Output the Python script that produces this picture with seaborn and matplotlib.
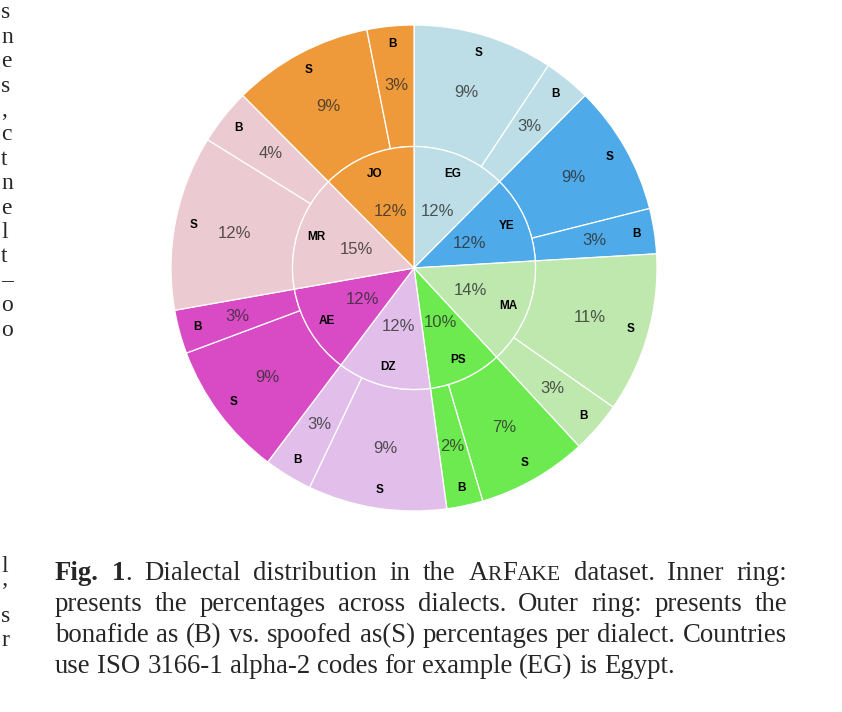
import matplotlib
matplotlib.use('Agg')
import matplotlib.pyplot as plt
import seaborn as sns
import numpy as np

# dialect shares (%), clockwise from 12 o'clock
dialects = ['EG', 'YE', 'MA', 'PS', 'DZ', 'AE', 'MR', 'JO']
spoofed = [9.3, 8.6, 10.6, 7.3, 9.2, 9.0, 11.6, 9.3]
bonafide = [3.1, 3.0, 3.4, 2.4, 3.2, 2.9, 3.7, 3.1]
dialect_colors = ['#bddee6', '#4eaae8', '#bee8ae', '#6dea50',
                  '#e2bfea', '#d84bc5', '#ebcad2', '#ef9a3a']

caption_lines = [
    [[('Fig.', 'bold', 1)], [('1', 'bold', 1), ('.', 'normal', 1)], [('Dialectal', 'normal', 1)],
     [('distribution', 'normal', 1)], [('in', 'normal', 1)], [('the', 'normal', 1)],
     [('A', 'normal', 1), ('R', 'normal', 0.8), ('F', 'normal', 1), ('AKE', 'normal', 0.8)],
     [('dataset.', 'normal', 1)], [('Inner', 'normal', 1)], [('ring:', 'normal', 1)]],
    'presents the percentages across dialects. Outer ring: presents the',
    'bonafide as (B) vs. spoofed as(S) percentages per dialect. Countries',
    'use ISO 3166-1 alpha-2 codes for example (EG) is Egypt.',
]
# letters of the neighbouring column seen at the left edge
edge_top = ['s', 'n', 'e', 's', ',', 'c', 't', 'n', 'e', 'l', 't', '–', 'o', 'o']
edge_bottom = ['l', '’', 's', 'r']

sns.set_style('white')
plt.rcParams['font.family'] = ['Liberation Sans', 'DejaVu Sans']

W, H = 842, 712
fig = plt.figure(figsize=(W / 100, H / 100), dpi=100)
cx, cy, R = 414, 268, 243
ax = fig.add_axes([(cx - R) / W, 1 - (cy + R) / H, 2 * R / W, 2 * R / H])

totals = [s + b for s, b in zip(spoofed, bonafide)]
outer_vals, outer_cols, outer_codes = [], [], []
for s, b, c in zip(spoofed, bonafide, dialect_colors):
    outer_vals += [s, b]
    outer_cols += [c, c]
    outer_codes += ['S', 'B']

wp = dict(edgecolor='white', linewidth=0.9)
outer, _ = ax.pie(outer_vals, radius=1, colors=outer_cols, startangle=90,
                  counterclock=False, wedgeprops=dict(width=0.5, **wp))
inner, _ = ax.pie(totals, radius=0.5, colors=dialect_colors, startangle=90,
                  counterclock=False, wedgeprops=wp)
ax.set_xlim(-1, 1)
ax.set_ylim(-1, 1)
ax.axis('off')


def label(w, r, txt, **kw):
    a = np.deg2rad((w.theta1 + w.theta2) / 2)
    ax.text(r * np.cos(a), r * np.sin(a), txt, ha='center', va='center', **kw)


pct_style = dict(fontsize=12, color='#2a2a2a', alpha=0.78)
code_style = dict(fontsize=8.5, fontweight='bold', color='black')
for w, v, code in zip(outer, outer_vals, outer_codes):
    label(w, 0.753, f'{v:.0f}%', **pct_style)
    label(w, 0.925, code, **code_style)
for w, v, code in zip(inner, totals, dialects):
    label(w, 0.25, f'{v:.0f}%', **pct_style)
    label(w, 0.42, code, **code_style)

# caption, justified like the paper
renderer = fig.canvas.get_renderer()
cap_size = 19.3
serif = ['Liberation Serif', 'DejaVu Serif']
x_left, x_right = 55, 787
baselines = [580, 611, 642, 673]


def run_width(txt, wt, sc):
    t = fig.text(0, 0, txt, fontsize=cap_size * sc, fontweight=wt, family=serif)
    wdt = t.get_window_extent(renderer).width
    t.remove()
    return wdt


for i, line in enumerate(caption_lines):
    if isinstance(line, str):
        line = [[(wd, 'normal', 1)] for wd in line.split()]
    widths = [sum(run_width(*r) for r in tok) for tok in line]
    if i < len(caption_lines) - 1:
        gap = (x_right - x_left - sum(widths)) / (len(line) - 1)
    else:
        gap = run_width('a a', 'normal', 1) - run_width('aa', 'normal', 1)
    x = x_left
    for tok, wdt in zip(line, widths):
        xx = x
        for txt, wt, sc in tok:
            fig.text(xx / W, 1 - baselines[i] / H, txt, fontsize=cap_size * sc,
                     fontweight=wt, family=serif, va='baseline', ha='left')
            xx += run_width(txt, wt, sc)
        x += wdt + gap

for k, ch in enumerate(edge_top):
    fig.text(1 / W, 1 - (13 + 24.4 * k) / H, ch, fontsize=17, family=serif,
             ha='left', va='center')
for k, ch in enumerate(edge_bottom):
    fig.text(1 / W, 1 - (567 + 24.5 * k) / H, ch, fontsize=17, family=serif,
             ha='left', va='center')

fig.savefig('out.png', dpi=100)
